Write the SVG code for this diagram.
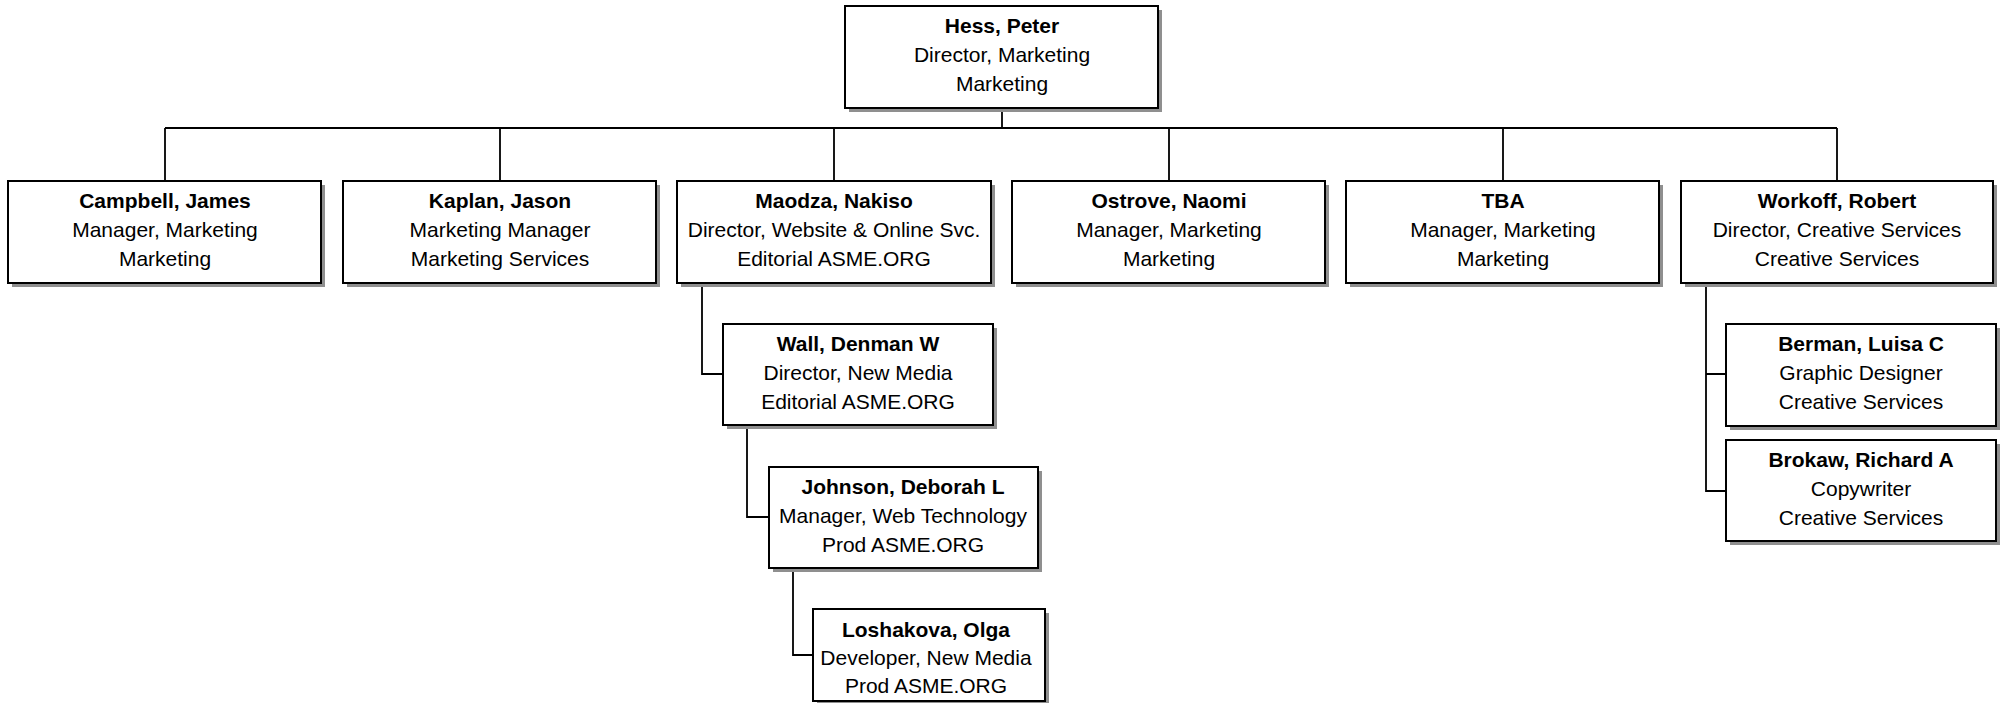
<svg xmlns="http://www.w3.org/2000/svg" width="2001" height="703" viewBox="0 0 2001 703">
<style>
.sh{fill:#8f8f8f;stroke:none}
.bx{fill:#ffffff;stroke:#000000;stroke-width:2}
.ln{fill:none;stroke:#000000;stroke-width:1.8}
text{font-family:"Liberation Sans",Arial,sans-serif;font-size:21px;fill:#000;text-anchor:middle}
.b{font-weight:bold}
</style>
<rect x="0" y="0" width="2001" height="703" fill="#ffffff"/>
<g id="connectors">
<path class="ln" d="M1002,108 V128 M165,128 H1837 M165,128 V181 M500,128 V181 M834,128 V181 M1169,128 V181 M1503,128 V181 M1837,128 V181"/>
<path class="ln" d="M702,283 V374 H723"/>
<path class="ln" d="M747,425 V517 H769"/>
<path class="ln" d="M793,568 V655 H813"/>
<path class="ln" d="M1706,283 V491 H1726 M1706,374 H1726"/>
</g>
<g id="hess">
<rect class="sh" x="849" y="10" width="313" height="102"/>
<rect class="bx" x="845" y="6" width="313" height="102"/>
<text class="b" x="1002" y="32.5">Hess, Peter</text>
<text x="1002" y="62">Director, Marketing</text>
<text x="1002" y="91">Marketing</text>
</g>
<g id="campbell">
<rect class="sh" x="12" y="185" width="313" height="102"/>
<rect class="bx" x="8" y="181" width="313" height="102"/>
<text class="b" x="165" y="207.5">Campbell, James</text>
<text x="165" y="237">Manager, Marketing</text>
<text x="165" y="266">Marketing</text>
</g>
<g id="kaplan">
<rect class="sh" x="347" y="185" width="313" height="102"/>
<rect class="bx" x="343" y="181" width="313" height="102"/>
<text class="b" x="500" y="207.5">Kaplan, Jason</text>
<text x="500" y="237">Marketing Manager</text>
<text x="500" y="266">Marketing Services</text>
</g>
<g id="maodza">
<rect class="sh" x="681" y="185" width="314" height="102"/>
<rect class="bx" x="677" y="181" width="314" height="102"/>
<text class="b" x="834" y="207.5">Maodza, Nakiso</text>
<text x="834" y="237">Director, Website &amp; Online Svc.</text>
<text x="834" y="266">Editorial ASME.ORG</text>
</g>
<g id="ostrove">
<rect class="sh" x="1016" y="185" width="313" height="102"/>
<rect class="bx" x="1012" y="181" width="313" height="102"/>
<text class="b" x="1169" y="207.5">Ostrove, Naomi</text>
<text x="1169" y="237">Manager, Marketing</text>
<text x="1169" y="266">Marketing</text>
</g>
<g id="tba">
<rect class="sh" x="1350" y="185" width="313" height="102"/>
<rect class="bx" x="1346" y="181" width="313" height="102"/>
<text class="b" x="1503" y="207.5">TBA</text>
<text x="1503" y="237">Manager, Marketing</text>
<text x="1503" y="266">Marketing</text>
</g>
<g id="workoff">
<rect class="sh" x="1685" y="185" width="312" height="102"/>
<rect class="bx" x="1681" y="181" width="312" height="102"/>
<text class="b" x="1837" y="207.5">Workoff, Robert</text>
<text x="1837" y="237">Director, Creative Services</text>
<text x="1837" y="266">Creative Services</text>
</g>
<g id="wall">
<rect class="sh" x="727" y="328" width="270" height="101"/>
<rect class="bx" x="723" y="324" width="270" height="101"/>
<text class="b" x="858" y="350.5">Wall, Denman W</text>
<text x="858" y="380">Director, New Media</text>
<text x="858" y="409">Editorial ASME.ORG</text>
</g>
<g id="johnson">
<rect class="sh" x="773" y="471" width="269" height="101"/>
<rect class="bx" x="769" y="467" width="269" height="101"/>
<text class="b" x="903" y="493.5">Johnson, Deborah L</text>
<text x="903" y="523">Manager, Web Technology</text>
<text x="903" y="552">Prod ASME.ORG</text>
</g>
<g id="loshakova">
<rect class="sh" x="817" y="613" width="232" height="92"/>
<rect class="bx" x="813" y="609" width="232" height="92"/>
<text class="b" x="926" y="637">Loshakova, Olga</text>
<text x="926" y="665">Developer, New Media</text>
<text x="926" y="693">Prod ASME.ORG</text>
</g>
<g id="berman">
<rect class="sh" x="1730" y="328" width="270" height="102"/>
<rect class="bx" x="1726" y="324" width="270" height="102"/>
<text class="b" x="1861" y="350.5">Berman, Luisa C</text>
<text x="1861" y="380">Graphic Designer</text>
<text x="1861" y="409">Creative Services</text>
</g>
<g id="brokaw">
<rect class="sh" x="1730" y="444" width="270" height="101"/>
<rect class="bx" x="1726" y="440" width="270" height="101"/>
<text class="b" x="1861" y="466.5">Brokaw, Richard A</text>
<text x="1861" y="496">Copywriter</text>
<text x="1861" y="525">Creative Services</text>
</g>
</svg>
